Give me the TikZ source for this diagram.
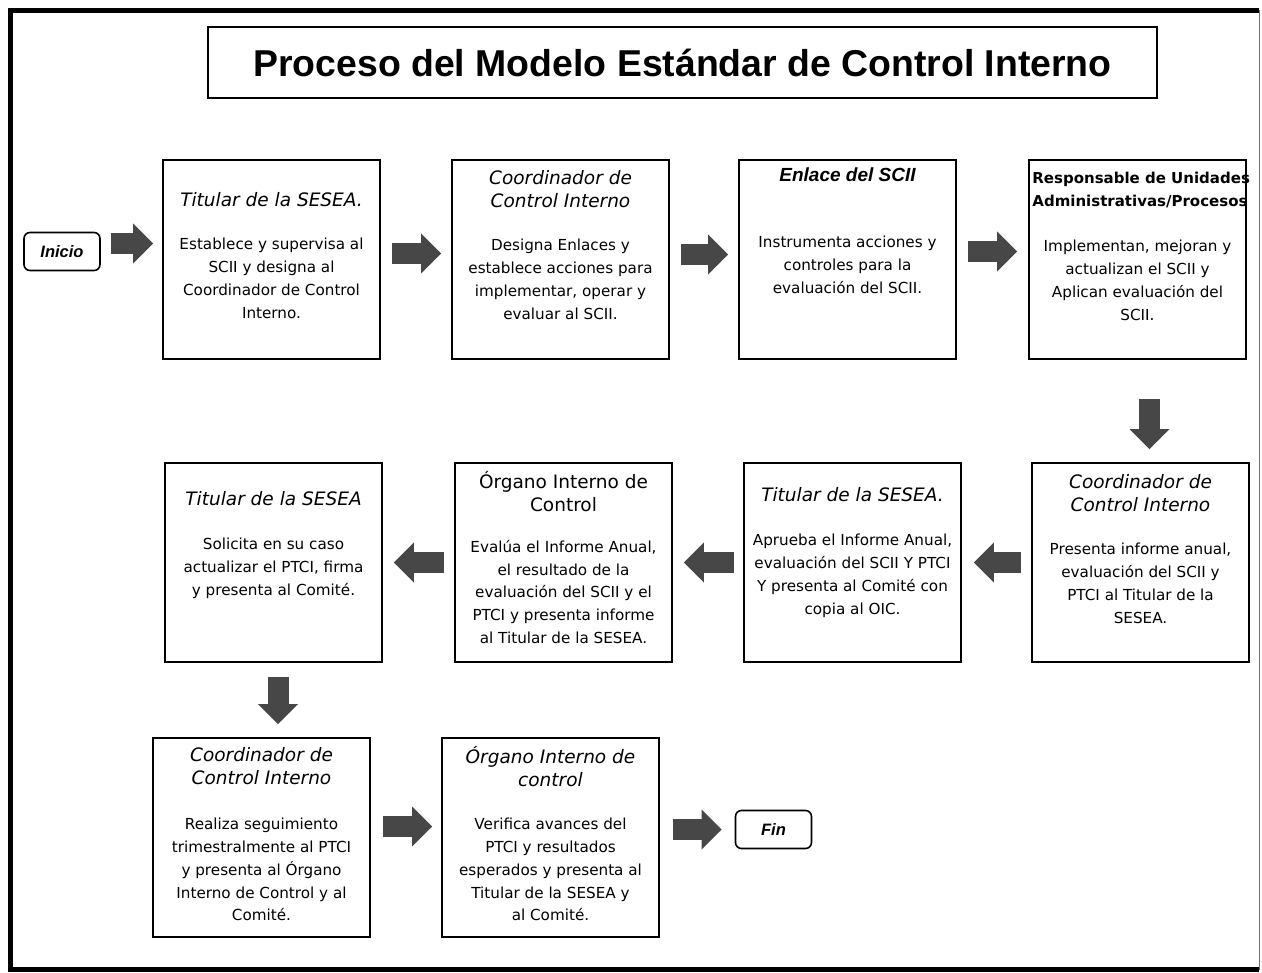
\documentclass[tikz,border=0pt]{standalone}
\usepackage{fontspec}
\setmainfont{DejaVu Sans}
\newfontfamily\arialfont{Liberation Sans}
\usepackage{tikz}
\usetikzlibrary{arrows.meta, calc}

\begin{document}
\begin{tikzpicture}[x=1pt, y=-1pt,
    paso/.style={draw, line width=1.6pt, minimum width=217pt, minimum height=199pt, inner sep=0pt},
    cabeza/.style={align=center, inner sep=0pt, font=\fontsize{18.5}{23}\selectfont\itshape},
    cuerpo/.style={align=center, inner sep=0pt, font=\fontsize{15.2}{22.7}\selectfont},
    extremo/.style={draw, line width=1.6pt, rounded corners=6pt, minimum width=76pt, minimum height=38pt,
        font=\arialfont\fontsize{16.5}{20}\selectfont\bfseries\itshape},
    flecha/.style={line width=21pt, black!72, -{Triangle[width=40pt, length=20pt, line width=0pt]},
        shorten <=11pt, shorten >=10pt}
]
\useasboundingbox (0,0) rectangle (1262,973);

% Box half-width and half-height
\def\medw{108.5}
\def\medh{99.5}

% Macro for one step box with its heading and its text
% Usage: \pasobox{name}{left x}{top y}{head offset}{text offset}{head}{text}
\newcommand{\pasobox}[7]{
    \node[paso] (#1) at (#2+\medw, #3+\medh) {};
    \node[cabeza, anchor=north] (#1-h) at ([yshift=-#4pt]#1.north) {#6};
    \node[cuerpo, anchor=north] (#1-t) at ([yshift=-#5pt]#1.north) {#7};
}

% --- Frame and title ---
\draw[line width=5pt] (1259,10.5) -- (10.5,10.5) -- (10.5,969.5) -- (1259,969.5);
\draw[line width=1pt, black!55] (1259,10) -- (1259,970);
\node[draw, line width=1.6pt, minimum width=949pt, minimum height=71pt,
    font=\arialfont\fontsize{37.4}{40}\selectfont\bfseries] (titulo) at (682.5,62.5)
    {Proceso del Modelo Estándar de Control Interno};

% --- Row 1 ---
\node[extremo] (inicio) at (62,251.5) {Inicio};
\pasobox{a1}{163}{160}{33}{79}{Titular de la SESEA.}
    {Establece y supervisa al\\SCII y designa al\\Coordinador de Control\\Interno.}
\pasobox{a2}{452}{160}{11}{80}{Coordinador de\\Control Interno}
    {Designa Enlaces y\\establece acciones para\\implementar, operar y\\evaluar al SCII.}
\pasobox{a3}{739}{160}{8}{77}{\arialfont\bfseries\fontsize{19}{22}\selectfont Enlace del SCII}
    {Instrumenta acciones y\\controles para la\\evaluación del SCII.}
\pasobox{a4}{1029}{160}{0}{81}{}
    {Implementan, mejoran y\\actualizan el SCII y\\Aplican evaluación del\\SCII.}
\node[anchor=north west, inner sep=0pt, align=left, font=\fontsize{15}{22.5}\selectfont\bfseries]
    (a4-r) at ($(a4.north west)+(4,13)$) {Responsable de Unidades\\Administrativas/Procesos};

% --- Row 2 ---
\pasobox{b1}{1032}{463}{12}{81}{Coordinador de\\Control Interno}
    {Presenta informe anual,\\evaluación del SCII y\\PTCI al Titular de la\\SESEA.}
\pasobox{b2}{744}{463}{25}{72}{Titular de la SESEA.}
    {Aprueba el Informe Anual,\\evaluación del SCII Y PTCI\\Y presenta al Comité con\\copia al OIC.}
\pasobox{b3}{455}{463}{9}{78}{\upshape Órgano Interno de\\\upshape Control}
    {Evalúa el Informe Anual,\\el resultado de la\\evaluación del SCII y el\\PTCI y presenta informe\\al Titular de la SESEA.}
\pasobox{b4}{165}{463}{29}{76}{Titular de la SESEA}
    {Solicita en su caso\\actualizar el PTCI, firma\\y presenta al Comité.}

% --- Row 3 ---
\pasobox{c1}{153}{738}{10}{81}{Coordinador de\\Control Interno}
    {Realiza seguimiento\\trimestralmente al PTCI\\y presenta al Órgano\\Interno de Control y al\\Comité.}
\pasobox{c2}{442}{738}{9}{81}{Órgano Interno de\\control}
    {Verifica avances del\\PTCI y resultados\\esperados y presenta al\\Titular de la SESEA y\\al Comité.}
\node[extremo] (fin) at (773.5,829.5) {Fin};

% --- Arrows ---
\draw[flecha, shorten <=10pt, shorten >=9pt] ($(inicio.east)+(0,-8)$) -- ($(inicio.east -| a1.west)+(0,-8)$);
\draw[flecha] ($(a1.east)+(0,-6)$) -- ($(a2.west)+(0,-6)$);
\draw[flecha] ($(a2.east)+(0,-5)$) -- ($(a3.west)+(0,-5)$);
\draw[flecha, shorten >=11pt] ($(a3.east)+(0,-8)$) -- ($(a4.west)+(0,-8)$);
\draw[flecha, shorten <=39pt, shorten >=13pt] ($(a4.south)+(12,0)$) -- ($(b1.north)+(9,0)$);
\draw[flecha, shorten <=10pt, shorten >=12pt] (b1.west) -- (b2.east);
\draw[flecha, shorten <=9pt, shorten >=11pt] (b2.west) -- (b3.east);
\draw[flecha, shorten <=10pt, shorten >=11pt] (b3.west) -- (b4.east);
\draw[flecha, shorten <=14pt, shorten >=13pt] ($(b4.south)+(4.5,0)$) -- ($(c1.north)+(16.5,0)$);
\draw[flecha, shorten <=12pt, shorten >=9pt] ($(c1.east)+(0,-11)$) -- ($(c2.west)+(0,-11)$);
\draw[flecha, shorten <=13pt, shorten >=13pt] (c2.east |- fin.west) -- (fin.west);

\end{tikzpicture}
\end{document}
